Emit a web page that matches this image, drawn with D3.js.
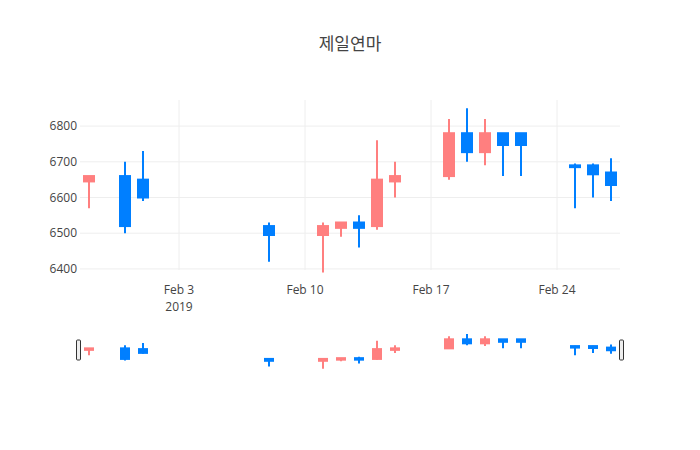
<!DOCTYPE html>
<html><head><meta charset="utf-8">
<script src="https://d3js.org/d3.v7.min.js"></script>
<style>body{margin:0;background:#fff}text{font-family:"Open Sans","Noto Sans CJK KR",sans-serif}</style>
</head><body><svg id="c" width="700" height="450"></svg>
<script>
const dates=["2019-01-29","2019-01-31","2019-02-01","2019-02-08","2019-02-11","2019-02-12","2019-02-13","2019-02-14","2019-02-15","2019-02-18","2019-02-19","2019-02-20","2019-02-21","2019-02-22","2019-02-25","2019-02-26","2019-02-27"];
const open =[6645,6660,6650,6520,6495,6515,6530,6520,6645,6660,6780,6727,6780,6780,6690,6690,6670];
const close=[6660,6520,6600,6495,6520,6530,6515,6650,6660,6780,6727,6780,6747,6747,6685,6665,6635];
const high =[6660,6700,6730,6530,6530,6530,6550,6760,6700,6820,6850,6820,6780,6780,6695,6695,6710];
const low  =[6570,6500,6590,6420,6390,6490,6460,6510,6600,6650,6700,6690,6660,6660,6570,6600,6590];
const yTicks=[6400,6500,6600,6700,6800];
const xTicks=["2019-02-03","2019-02-10","2019-02-17","2019-02-24"];
const title="제일연마";
const up="#ff7f7f", down="#007fff";
const P=d3.timeParse("%Y-%m-%d");
const data=dates.map((d,i)=>({t:P(d),o:open[i],c:close[i],h:high[i],l:low[i]}));
const svg=d3.select("#c");
const L=80,R=620,T=100,B=270;
const x=d3.scaleTime().domain([new Date(2019,0,28,12),new Date(2019,1,27,12)]).range([L,R]);
const y=d3.scaleLinear().domain([6397,6873]).range([B,T]);
const ys=d3.scaleLinear().domain([6373,6877]).range([370,332]);
svg.append("text").attr("x",350).attr("y",50).attr("text-anchor","middle").attr("font-size",17).attr("fill","#444").text(title);
// grid
svg.append("g").selectAll("line").data(xTicks).join("line").attr("x1",d=>x(P(d))).attr("x2",d=>x(P(d))).attr("y1",T).attr("y2",B).attr("stroke","#eee");
svg.append("g").selectAll("line").data(yTicks).join("line").attr("x1",L).attr("x2",R).attr("y1",d=>y(d)).attr("y2",d=>y(d)).attr("stroke","#eee");
svg.append("g").selectAll("text").data(yTicks).join("text").attr("x",L-3).attr("y",d=>y(d)+4).attr("text-anchor","end").attr("font-size",12).attr("fill","#444").text(d=>d);
const xt=svg.append("g").selectAll("text").data(xTicks).join("text").attr("x",d=>x(P(d))).attr("y",B+24).attr("text-anchor","middle").attr("font-size",12).attr("fill","#444").text(d=>d3.timeFormat("%b %-d")(P(d)));
svg.append("text").attr("x",x(P(xTicks[0]))).attr("y",B+41).attr("text-anchor","middle").attr("font-size",12).attr("fill","#444").text("2019");
function draw(g,ys,bw,lw){
  const s=g.selectAll("g").data(data).join("g");
  s.append("line").attr("x1",d=>x(d.t)).attr("x2",d=>x(d.t)).attr("y1",d=>ys(d.h)).attr("y2",d=>ys(d.l)).attr("stroke",d=>d.c>=d.o?up:down).attr("stroke-width",lw);
  s.append("rect").attr("x",d=>x(d.t)-bw/2).attr("width",bw).attr("y",d=>ys(Math.max(d.o,d.c))).attr("height",d=>Math.max(1.5,Math.abs(ys(d.o)-ys(d.c)))).attr("fill",d=>d.c>=d.o?up:down).attr("stroke",d=>d.c>=d.o?up:down).attr("stroke-width",lw);
}
draw(svg.append("g"),y,10,2);
draw(svg.append("g"),ys,8,2);
[L-2,R+1].forEach(h=>svg.append("rect").attr("x",h-1.5).attr("y",340).attr("width",4).attr("height",20).attr("rx",1).attr("fill","#eee").attr("stroke","#333"));
</script></body></html>
